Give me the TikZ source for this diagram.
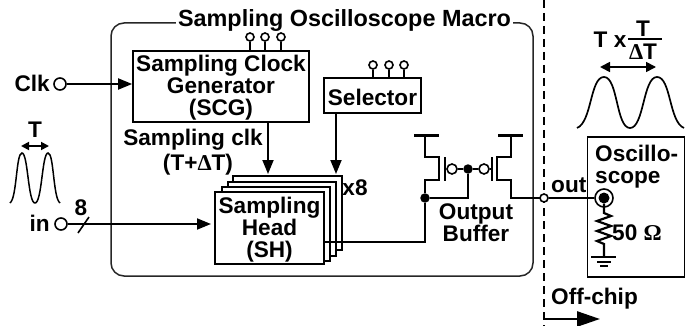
\documentclass[tikz,border=0pt]{standalone}
\usepackage{fontspec}
\setmainfont{Liberation Sans}
\newfontfamily\symfont{Liberation Serif}
\usetikzlibrary{arrows.meta}
\tikzstyle{block}=[draw, line width=1.7pt, inner sep=0pt, fill=white]
\tikzstyle{txt}=[inner sep=0pt, align=center, font=\fontsize{22.6}{22}\selectfont\bfseries]
\tikzstyle{pin}=[circle, draw, line width=1.6pt, inner sep=0pt, minimum size=8pt, fill=white]
\tikzstyle{port}=[circle, draw, line width=1.6pt, inner sep=0pt, minimum size=12pt, fill=white]
\tikzstyle{dot}=[circle, fill, inner sep=0pt, minimum size=9.5pt]
\tikzstyle{arr}=[line width=1.8pt, -{Triangle[length=14pt,width=11pt]}]

\begin{document}
\begin{tikzpicture}[x=1pt, y=-1pt]
      \useasboundingbox (0, 0) rectangle (693, 326);
      % macro outline
      \draw[line width=1.5pt, rounded corners=13pt, draw=black!85] (111, 23) rectangle (533, 276);
      \node[txt, fill=white, inner xsep=2pt, font=\fontsize{23.4}{24}\selectfont\bfseries](title) at (344.5, 21) {Sampling Oscilloscope Macro};
      % blocks
      \node[block, minimum width=176pt, minimum height=71pt](scg) at (221, 86.5) {};
      \node[txt](scgtxt) at (221, 87.5) {Sampling Clock\\Generator\\(SCG)};
      \node[block, minimum width=97pt, minimum height=35pt](sel) at (372.5, 95.5) {};
      \node[txt](seltxt) at (372.5, 97) {Selector};
      \node[block, minimum width=109pt, minimum height=74pt](sh3) at (287.5, 213) {};
      \node[block, minimum width=108pt, minimum height=74pt](sh2) at (282, 219) {};
      \node[block, minimum width=108pt, minimum height=74pt](sh1) at (276, 224) {};
      \node[block, minimum width=109pt, minimum height=72pt](sh0) at (269.5, 228) {};
      \node[txt](shtxt) at (269.5, 229.5) {Sampling\\Head\\(SH)};
      \node[txt](x8) at (355, 188) {x8};
      % pins
      \foreach \i/\x in {a/250, b/265, c/281} {
        \node[pin](scgp\i) at (\x, 37) {};
        \draw[line width=1.6pt] (scgp\i) -- (\x, 51);
      }
      \foreach \i/\x in {a/373, b/389, c/404} {
        \node[pin](selp\i) at (\x, 65) {};
        \draw[line width=1.6pt] (selp\i) -- (\x, 78);
      }
      % inputs
      \node[port](clk) at (60, 84) {};
      \node[txt, anchor=east](clktxt) at (50, 83) {Clk};
      \draw[arr] (clk) -- (scg.west |- clk);
      \node[port](in) at (61, 224) {};
      \node[txt, anchor=east](intxt) at (50, 223) {in};
      \coordinate (shin) at (211, 224);
      \draw[arr] (in) -- (shin);
      \coordinate (sla) at (78, 233);
      \coordinate (slb) at (89, 217);
      \draw[line width=1.6pt] (sla) -- (slb);
      \node[txt](eight) at (81, 208) {8};
      \node[txt](clktag) at (193, 140) {Sampling clk};
      \node[txt](clktagb) at (198, 165) {(T+{\symfont Δ}T)};
      \coordinate (sha) at (268, 174);
      \coordinate (shb) at (336, 174);
      \draw[arr] (268, 122) -- (sha);
      \draw[arr] (336, 113) -- (shb);
      % input wave
      \node[txt](tin) at (35, 130) {T};
      \coordinate (tl) at (21, 146);
      \coordinate (tr) at (49, 146);
      \draw[line width=1.7pt, {Triangle[length=8pt,width=8pt]}-{Triangle[length=8pt,width=8pt]}] (tl) -- (tr);
      \draw[line width=1.5pt] (10, 203) .. controls (17, 198) and (16, 153) .. (22, 153)
        .. controls (28, 153) and (28, 203) .. (35, 203)
        .. controls (42, 203) and (42, 153) .. (48, 153)
        .. controls (54, 153) and (53, 198) .. (60, 203);
      % output buffer
      \coordinate (p1) at (425, 198);
      \node[dot](nd1) at (p1) {};
      \node[dot](nd2) at (468, 169) {};
      \node[pin, minimum size=10pt](bl) at (452, 169) {};
      \node[pin, minimum size=10pt](br) at (484, 169) {};
      \draw[line width=1.8pt] (324, 242) -| (nd1);
      \draw[line width=1.8pt] (nd1) -- (468, 198) -- (nd2);
      \draw[line width=2.7pt] (nd1) |- (439, 180) -- (439, 157) -| (425, 136);
      \draw[line width=3pt] (414, 136) -- (439, 136);
      \draw[line width=2.7pt] (445, 157) -- (445, 181);
      \draw[line width=2pt] (445, 169) -- (bl) -- (nd2) -- (br) -- (492, 169);
      \draw[line width=2.7pt] (492, 157) -- (492, 181);
      \draw[line width=2.7pt] (511, 136) |- (497, 157) -- (497, 180) -| (511, 198) -- (540, 198);
      \draw[line width=3pt] (498, 136) -- (523, 136);
      \node[txt](buf) at (476, 223) {Output\\Buffer};
      % off chip boundary
      \coordinate (bt) at (544, 0);
      \coordinate (bb) at (544, 326);
      \draw[line width=1.5pt, dash pattern=on 8pt off 5pt] (bt) -- (bb);
      \node[txt, anchor=west](offc) at (551, 299) {Off-chip};
      \coordinate (oc) at (544, 319);
      \draw[line width=2.6pt, -{Triangle[length=23pt,width=15pt]}] (oc) -- (600, 319);
      % scope
      \node[block, minimum width=97pt, minimum height=140pt, fill=none](scope) at (636, 207) {};
      \node[txt, anchor=west, align=left](scopetxt) at (595, 167) {Oscillo-\\scope};
      \node[pin](outp) at (544, 198) {};
      \node[txt, anchor=west](outtxt) at (551, 185) {out};
      \node[circle, draw, line width=1.6pt, inner sep=0pt, minimum size=18pt](sc) at (604, 198) {};
      \node[dot, minimum size=11pt](scd) at (604, 198) {};
      \draw[line width=2.7pt] (outp) -- (sc);
      \draw[line width=2.2pt] (scd) -- (604, 213) -- (611, 216) -- (597, 221) -- (611, 226) -- (597, 231) -- (611, 236) -- (597, 241) -- (604, 244) -- (604, 257);
      \draw[line width=2.4pt] (591, 257) -- (616, 257);
      \draw[line width=2.4pt] (597, 262) -- (611, 262);
      \draw[line width=2.4pt] (600, 266) -- (608, 266);
      \node[txt, anchor=west](ohm) at (612, 233) {50 {\symfont Ω}};
      % output wave
      \coordinate (ol) at (600, 67);
      \coordinate (or) at (656, 67);
      \draw[line width=1.7pt, {Triangle[length=10pt,width=10pt]}-{Triangle[length=10pt,width=10pt]}] (ol) -- (or);
      \draw[line width=1.7pt] (577, 128) .. controls (592, 122) and (590, 77) .. (604, 77)
        .. controls (618, 77) and (616, 128) .. (630, 128)
        .. controls (644, 128) and (643, 77) .. (657, 77)
        .. controls (671, 77) and (669, 122) .. (684, 128);
      \node[txt](tx) at (610, 40) {T x};
      \node[txt](tn) at (643, 29) {T};
      \draw[line width=1.7pt] (628, 39) -- (662, 39);
      \node[txt](td) at (643, 52) {{\symfont Δ}T};
    \end{tikzpicture}
\end{document}
